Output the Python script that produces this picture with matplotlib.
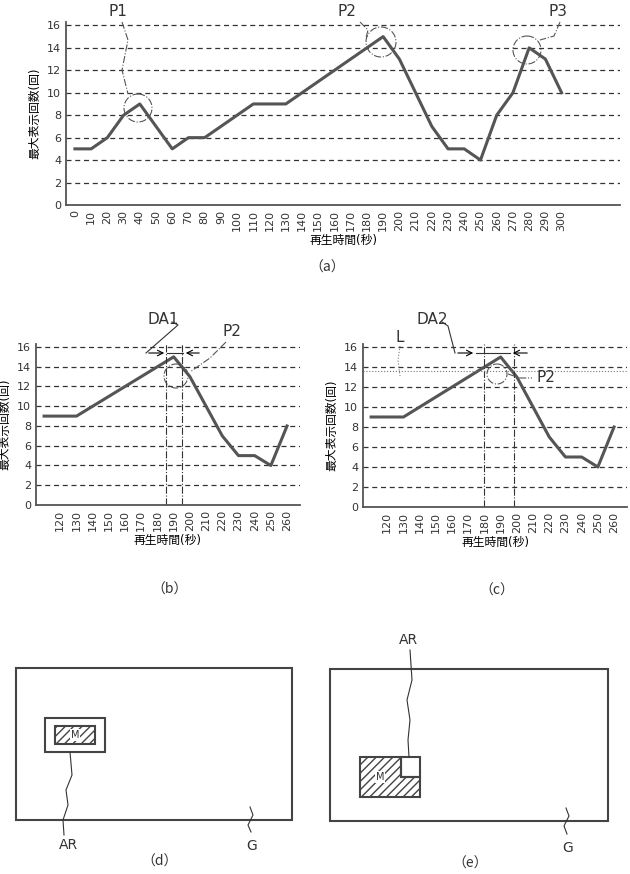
import matplotlib
matplotlib.use("Agg")
import matplotlib.pyplot as plt
from matplotlib.patches import Rectangle, Circle, Polygon

plt.rcParams["font.family"] = ["DejaVu Sans", "Noto Sans CJK JP"]

W, H = 630, 874
GREY = "#555555"

# (a) full play time
times_a = list(range(0, 301, 10))
counts_a = [5, 5, 6, 8, 9, 7, 5, 6, 6, 7, 8, 9, 9, 9, 10, 11, 12, 13, 14, 15,
            13, 10, 7, 5, 5, 4, 8, 10, 14, 13, 10]

# (b)/(c) zoomed range
times_bc = list(range(110, 261, 10))
counts_bc = [9, 9, 9, 10, 11, 12, 13, 14, 15, 13, 10, 7, 5, 5, 4, 8]
ticks_bc = list(range(120, 261, 10))

da1 = (185, 195)
da2 = (180, 198)
level_l = 13.6

ylabel = "最大表示回数(回)"
xlabel = "再生時間(秒)"


def px_axes(fig, left, top, right, bottom):
    return fig.add_axes([left / W, 1 - bottom / H, (right - left) / W, (bottom - top) / H])


def style_chart(ax):
    ax.set_ylim(0, 16.3)
    ax.set_yticks(range(0, 17, 2))
    ax.yaxis.grid(True, linestyle=(0, (4, 3)), color="#333333", lw=0.9)
    ax.set_axisbelow(True)
    for s in ["top", "right"]:
        ax.spines[s].set_visible(False)
    for s in ["left", "bottom"]:
        ax.spines[s].set_color(GREY)
        ax.spines[s].set_linewidth(1.3)
    ax.tick_params(length=0, labelsize=8, colors="#333333")
    ax.tick_params(axis="x", rotation=90)
    ax.set_ylabel(ylabel, fontsize=8.5)
    ax.set_xlabel(xlabel, fontsize=8.5, labelpad=2)


fig = plt.figure(figsize=(6.3, 8.74), dpi=100)

ax_a = px_axes(fig, 66, 22, 620, 205)
ax_a.plot(times_a, counts_a, color=GREY, lw=2.2)
ax_a.set_xticks(times_a)
ax_a.set_xlim(-5.5, 336)
style_chart(ax_a)

ax_b = px_axes(fig, 36, 344, 300, 505)
ax_b.plot(times_bc, counts_bc, color=GREY, lw=2.2)
ax_b.set_xticks(ticks_bc)
ax_b.set_xlim(105, 268)
style_chart(ax_b)
for x in da1:
    ax_b.axvline(x, color="#333333", lw=0.8, linestyle="-.")

ax_c = px_axes(fig, 363, 344, 627, 507)
ax_c.plot(times_bc, counts_bc, color=GREY, lw=2.2)
ax_c.set_xticks(ticks_bc)
ax_c.set_xlim(105, 268)
style_chart(ax_c)
for x in da2:
    ax_c.axvline(x, color="#333333", lw=0.8, linestyle="-.")
ax_c.axhline(level_l, color="#777777", lw=0.8, linestyle=":")

# overlay in pixel coordinates for annotations and diagrams (d), (e)
ov = fig.add_axes([0, 0, 1, 1])
ov.set_xlim(0, W)
ov.set_ylim(H, 0)
ov.axis("off")
dd = dict(color="#555555", lw=0.8, linestyle="-.")

for txt, (tx, ty), (cx, cy), r, path in [
    ("P1", (118, 12), (138, 108), 14, [(122, 22), (128, 40), (122, 70), (128, 94)]),
    ("P2", (347, 12), (381, 42), 15, [(360, 22), (368, 30), (366, 38)]),
    ("P3", (558, 12), (527, 50), 14, [(560, 22), (554, 36), (540, 40)]),
]:
    ov.text(tx, ty, txt, fontsize=11, color="#333333", ha="center", va="center")
    ov.add_patch(Circle((cx, cy), r, fill=False, **dd))
    xs, ys = zip(*path)
    ov.plot(xs, ys, **dd)

# (b) annotations
ov.text(163, 320, "DA1", fontsize=11, color="#333333", ha="center", va="center")
ov.plot([172, 178, 146], [322, 325, 353], color="#333333", lw=0.8)
ov.annotate("", xy=(167, 353), xytext=(146, 353), arrowprops=dict(arrowstyle="->", lw=0.8))
ov.annotate("", xy=(183, 353), xytext=(202, 353), arrowprops=dict(arrowstyle="->", lw=0.8))
ov.plot([167, 183], [353, 353], color="#333333", lw=0.8)
ov.text(232, 332, "P2", fontsize=11, color="#333333", ha="center", va="center")
ov.add_patch(Circle((176, 376), 12, fill=False, **dd))
ov.plot([226, 210, 190], [342, 358, 372], **dd)

# (c) annotations
ov.text(400, 338, "L", fontsize=11, color="#333333", ha="center", va="center")
ov.plot([400, 398, 400], [346, 360, 376], color="#777777", lw=0.8, linestyle=":")
ov.text(432, 320, "DA2", fontsize=11, color="#333333", ha="center", va="center")
ov.plot([442, 448, 455], [322, 326, 353], color="#333333", lw=0.8)
ov.annotate("", xy=(476, 353), xytext=(455, 353), arrowprops=dict(arrowstyle="->", lw=0.8))
ov.annotate("", xy=(510, 353), xytext=(530, 353), arrowprops=dict(arrowstyle="->", lw=0.8))
ov.plot([476, 510], [353, 353], color="#333333", lw=0.8)
ov.text(546, 378, "P2", fontsize=11, color="#333333", ha="center", va="center")
ov.add_patch(Circle((497, 374), 10, fill=False, **dd))
ov.plot([508, 520, 532], [374, 378, 378], **dd)

# panel captions
for lbl, x, y in [("（a）", 327, 268), ("（b）", 170, 590), ("（c）", 497, 591),
                  ("（d）", 160, 862), ("（e）", 470, 864)]:
    ov.text(x, y, lbl, fontsize=10, color="#333333", ha="center", va="center",
            fontfamily="Noto Sans CJK JP")

box = dict(fill=False, edgecolor="#444444", lw=1.5)
# (d)
ov.add_patch(Rectangle((16, 668), 276, 152, **box))
ov.add_patch(Rectangle((45, 718), 60, 34, **box))
ov.add_patch(Rectangle((55, 726), 40, 18, fill=False, edgecolor="#444444", lw=1.5, hatch="////"))
ov.text(75, 735, "M", fontsize=7, ha="center", va="center", color="#333333",
        bbox=dict(facecolor="white", edgecolor="none", pad=0.5))
ov.plot([70, 72, 66, 68, 63, 64], [752, 775, 790, 805, 820, 835], color="#333333", lw=0.8)
ov.text(68, 845, "AR", fontsize=10, ha="center", va="center", color="#333333")
ov.plot([250, 253, 248, 251], [807, 815, 825, 832], color="#333333", lw=0.8)
ov.text(252, 846, "G", fontsize=10, ha="center", va="center", color="#333333")

# (e)
ov.add_patch(Rectangle((330, 669), 278, 152, **box))
ov.add_patch(Polygon([(360, 757), (401, 757), (401, 777), (420, 777), (420, 797), (360, 797)],
                     closed=True, fill=False, edgecolor="#444444", lw=1.5, hatch="////"))
ov.add_patch(Rectangle((401, 757), 19, 20, **box))
ov.text(380, 777, "M", fontsize=7, ha="center", va="center", color="#333333",
        bbox=dict(facecolor="white", edgecolor="none", pad=0.5))
ov.plot([410, 412, 407, 410, 408, 409], [650, 680, 700, 720, 740, 757], color="#333333", lw=0.8)
ov.text(408, 640, "AR", fontsize=10, ha="center", va="center", color="#333333")
ov.plot([566, 569, 564, 567], [808, 816, 826, 834], color="#333333", lw=0.8)
ov.text(568, 848, "G", fontsize=10, ha="center", va="center", color="#333333")

fig.savefig("out.png", dpi=100)
